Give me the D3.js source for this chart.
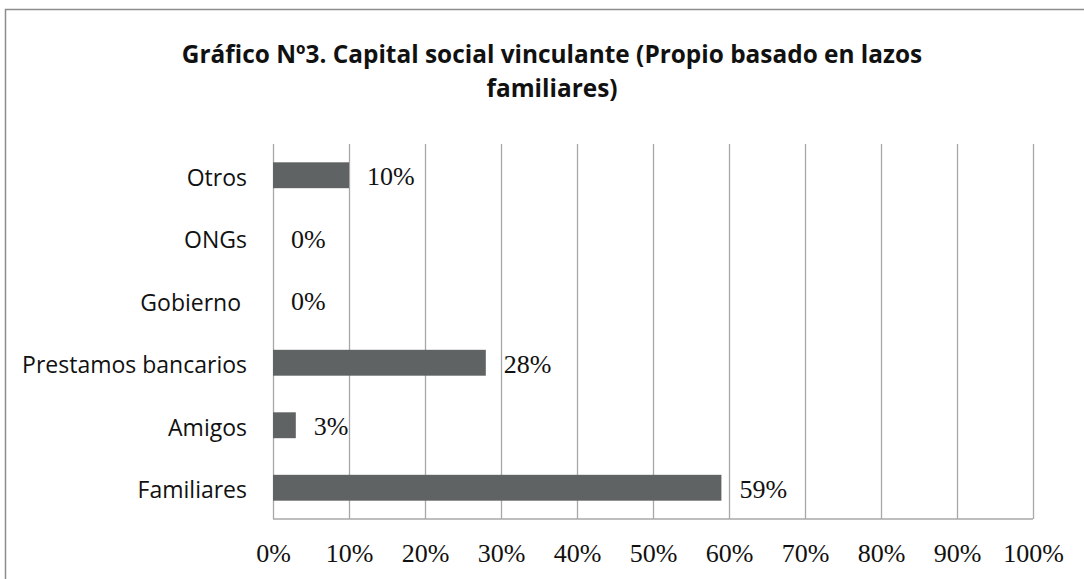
<!DOCTYPE html>
<html lang="es">
<head>
<meta charset="UTF-8">
<script src="https://d3js.org/d3.v7.min.js"></script>
<style>
  html, body { margin: 0; padding: 0; background: #fff; }
  svg { display: block; }
</style>
</head>
<body>
<div id="plot"></div>
<script>
// data, bottom to top as in the picture
const categories = ["Familiares", "Amigos", "Prestamos bancarios", "Gobierno ", "ONGs", "Otros"];
const values = [59, 3, 28, 0, 0, 10];
const tickValues = [0, 10, 20, 30, 40, 50, 60, 70, 80, 90, 100];
const titleLines = ["Gráfico Nº3. Capital social vinculante (Propio basado en lazos", "familiares)"];

function chart() {
  const width = 1084, height = 579;
  const plot = {left: 273, right: 1033, top: 144, bottom: 519};
  const barColor = '#606363';
  const gridColor = '#a8a8a8';

  const svg = d3.select('#plot').append('svg')
      .attr('width', width)
      .attr('height', height);

  // outer frame (runs off the right and bottom edge)
  svg.append('rect')
      .attr('x', 5.5).attr('y', 9.5)
      .attr('width', 1200).attr('height', 700)
      .attr('fill', 'none')
      .attr('stroke', '#8c8c8c')
      .attr('stroke-width', 1.5);

  // title
  svg.append('g').selectAll('text')
    .data(titleLines)
    .join('text')
      .attr('x', 552)
      .attr('y', (d, i) => 63 + i * 33.5)
      .attr('text-anchor', 'middle')
      .attr('font-family', '"Open Sans", sans-serif')
      .attr('font-weight', 'bold')
      .attr('font-size', 24.4)
      .attr('fill', '#111')
      .text(d => d);

  const data = categories.map((c, i) => ({cat: c, value: values[i]}));

  const x = d3.scaleLinear()
      .domain([0, 100])
      .range([plot.left, plot.right]);

  const y = d3.scaleBand()
      .domain(categories.slice().reverse())
      .range([plot.top, plot.bottom])
      .paddingInner(0.586)
      .paddingOuter(0.293);

  // grid lines + tick labels
  const xAxis = g => g
      .attr('transform', `translate(0, ${plot.bottom})`)
      .call(d3.axisBottom(x).tickValues(tickValues).tickSize(0).tickFormat(d => d + '%'))
      .call(g => g.select('.domain').remove())
      .call(g => g.selectAll('.tick line')
        .attr('stroke', gridColor)
        .attr('stroke-width', 1.3)
        .attr('y1', plot.top - plot.bottom)
        .attr('y2', 0))
      .call(g => g.selectAll('.tick text')
        .attr('y', 43)
        .attr('dy', 0)
        .attr('fill', '#111')
        .attr('font-family', '"Liberation Serif", "Times New Roman", serif')
        .attr('font-size', 26));

  svg.append('g').call(xAxis);

  // bottom line of the plot
  svg.append('line')
      .attr('x1', plot.left).attr('x2', plot.right)
      .attr('y1', plot.bottom).attr('y2', plot.bottom)
      .attr('stroke', gridColor)
      .attr('stroke-width', 1.5);

  // category labels
  svg.append('g').selectAll('text')
    .data(data)
    .join('text')
      .attr('x', plot.left - 26)
      .attr('y', d => y(d.cat) + y.bandwidth() / 2 + 10.5)
      .attr('text-anchor', 'end')
      .attr('font-family', '"Open Sans", sans-serif')
      .attr('font-size', 23)
      .attr('fill', '#111')
      .style('white-space', 'pre')
      .text(d => d.cat);

  // bars
  svg.append('g').selectAll('rect')
    .data(data)
    .join('rect')
      .attr('x', x(0))
      .attr('y', d => y(d.cat))
      .attr('width', d => x(d.value) - x(0))
      .attr('height', y.bandwidth())
      .attr('fill', barColor);

  // value labels
  svg.append('g').selectAll('text')
    .data(data)
    .join('text')
      .attr('x', d => x(d.value) + 18)
      .attr('y', d => y(d.cat) + y.bandwidth() / 2 + 10)
      .attr('font-family', '"Liberation Serif", "Times New Roman", serif')
      .attr('font-size', 26)
      .attr('fill', '#111')
      .text(d => d.value + '%');
}

chart();
</script>
</body>
</html>
